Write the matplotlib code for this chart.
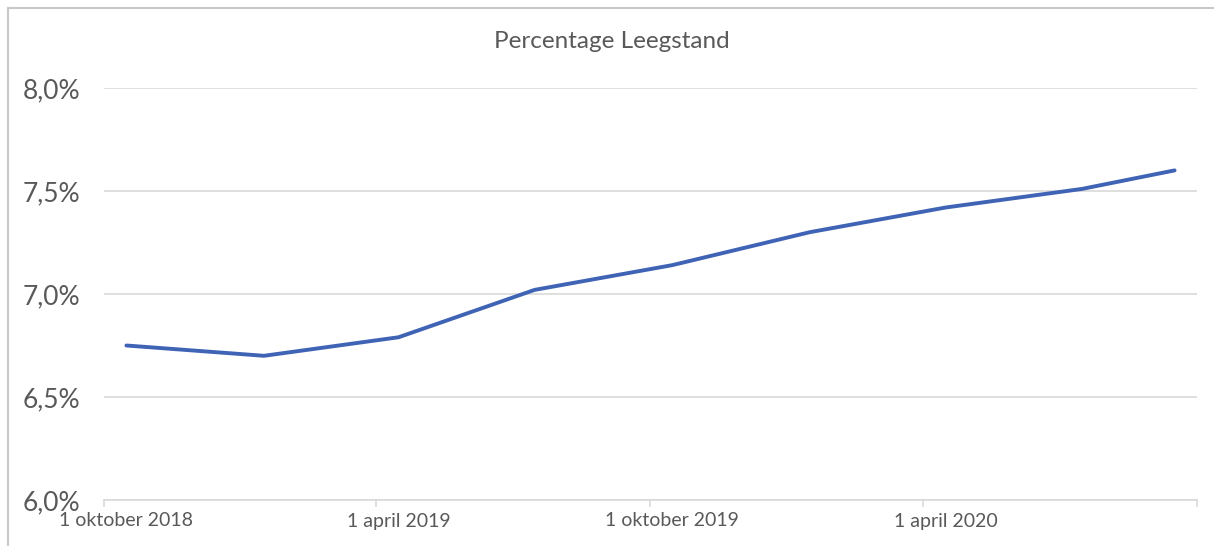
import pandas as pd
import matplotlib
matplotlib.use("Agg")
import matplotlib.pyplot as plt
from matplotlib.lines import Line2D
from matplotlib.ticker import FuncFormatter

# quarterly readings of vacancy percentage
months = ["2018-10", "2019-01", "2019-04", "2019-07", "2019-10",
          "2020-01", "2020-04", "2020-07", "2020-09"]
leegstand = [6.75, 6.70, 6.79, 7.02, 7.14, 7.30, 7.42, 7.51, 7.60]

label_months = ["2018-10", "2019-04", "2019-10", "2020-04"]
label_texts = ["1 oktober 2018", "1 april 2019", "1 oktober 2019", "1 april 2020"]

plt.rcParams["font.family"] = ["Lato", "DejaVu Sans"]
grey = "#595959"
gridc = "#d9d9d9"

fig = plt.figure(figsize=(12.14, 5.46), dpi=100)
ax = fig.add_axes([104 / 1214, 46 / 546, 1093 / 1214, 412 / 546])

# Excel date axis: points sit in the middle of their month slot
x = pd.to_datetime(months) + pd.Timedelta(days=15)
ax.plot(x, leegstand, color="#3F63B5", lw=2.8, solid_capstyle="round")

ax.set_ylim(6.0, 8.0)
ax.set_yticks([6.0, 6.5, 7.0, 7.5, 8.0])
ax.yaxis.set_major_formatter(FuncFormatter(lambda v, p: f"{v:.1f}%".replace(".", ",")))
ax.grid(axis="y", color=gridc, lw=1.2)
ax.set_axisbelow(True)

ax.set_xlim(pd.Timestamp("2018-10-01"), pd.Timestamp("2020-10-01"))
ticks = pd.date_range("2018-10-01", "2020-10-01", freq="6MS")
ax.set_xticks(ticks)
ax.set_xticklabels([])
ax.tick_params(axis="x", which="major", length=5, color=gridc, width=1.2)
lab_pos = pd.to_datetime(label_months) + pd.Timedelta(days=15)
ax.set_xticks(lab_pos, minor=True)
ax.set_xticklabels(label_texts, minor=True)
ax.tick_params(axis="x", which="minor", length=0, pad=9, labelsize=14, labelcolor=grey)
ax.tick_params(axis="y", length=0, pad=17, labelsize=19, labelcolor=grey)

for s in ["top", "right", "left"]:
    ax.spines[s].set_visible(False)
ax.spines["bottom"].set_color(gridc)
ax.spines["bottom"].set_linewidth(1.2)

fig.text(612 / 1214, 1 - 42 / 546, "Percentage Leegstand", ha="center", va="center",
         fontsize=17.5, color=grey)

# chart frame (cropped at right and bottom)
fig.add_artist(Line2D([8 / 1214, 8 / 1214], [0, 1 - 8 / 546], color="#c8c8c8", lw=1.5))
fig.add_artist(Line2D([8 / 1214, 1], [1 - 8 / 546, 1 - 8 / 546], color="#c8c8c8", lw=1.5))

fig.savefig("out.png", dpi=100)
